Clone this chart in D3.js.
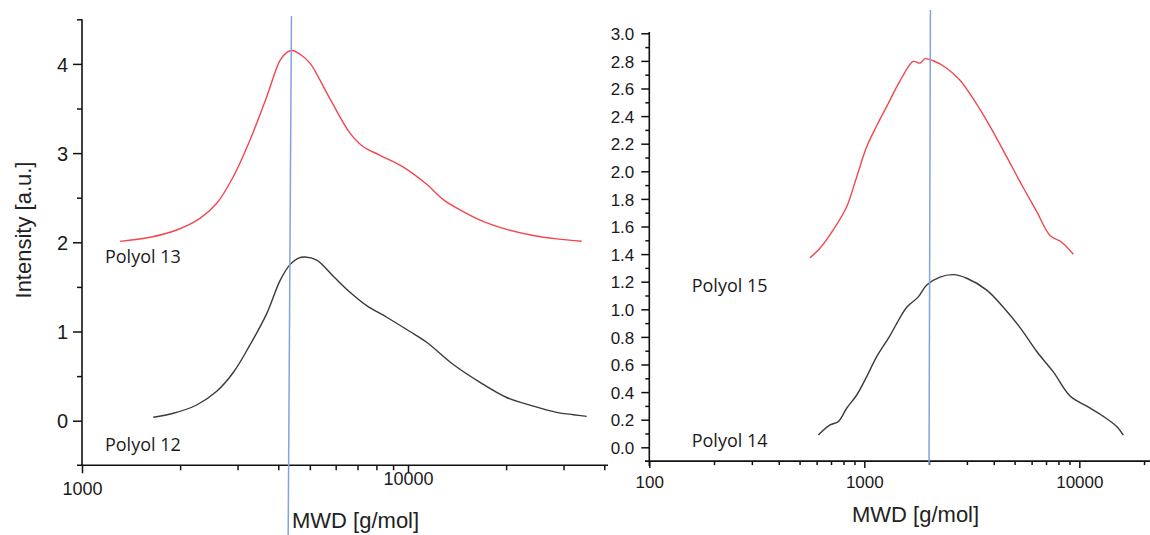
<!DOCTYPE html>
<html>
<head>
<meta charset="utf-8">
<script src="https://cdn.jsdelivr.net/npm/d3@7"></script>
<style>
  body { margin: 0; background: #fff; }
  svg { display: block; }
  .tick text { fill: #1a1a1a; }
</style>
</head>
<body>
<svg id="chart" width="1150" height="535"></svg>
<script>
// --- data (MW in g/mol, intensity in a.u.) ---
const polyol13 = [[1308,2.01],[1617,2.056],[1951,2.138],[2301,2.269],[2590,2.437],[2911,2.735],[3276,3.147],[3687,3.632],[4050,4.04],[4250,4.13],[4420,4.15],[4700,4.10],[5004,4.009],[5765,3.607],[6639,3.224],[7295,3.071],[8208,2.975],[9674,2.842],[11410,2.65],[12830,2.478],[14440,2.363],[16630,2.249],[20080,2.145],[24230,2.076],[28580,2.038],[34110,2.011]]
const polyol12 = [[1654,0.038],[1906,0.083],[2248,0.176],[2590,0.33],[2911,0.54],[3276,0.85],[3687,1.2],[4050,1.57],[4345,1.75],[4600,1.82],[4831,1.835],[5248,1.80],[5900,1.62],[6639,1.44],[7470,1.29],[8604,1.16],[10140,1.0],[11410,0.88],[13770,0.63],[16630,0.43],[20080,0.26],[24230,0.164],[28580,0.094],[32150,0.067],[35340,0.048]]
const polyol15 = [[559,1.374],[622,1.442],[717,1.575],[828,1.743],[922,1.961],[1026,2.178],[1142,2.33],[1272,2.47],[1466,2.655],[1690,2.796],[1816,2.784],[1916,2.816],[2094,2.801],[2417,2.747],[2787,2.66],[3214,2.524],[3843,2.326],[4596,2.104],[5489,1.881],[6338,1.708],[7306,1.535],[8282,1.486],[9378,1.399]]
const polyol14 = [[611,0.089],[693,0.162],[757,0.186],[828,0.283],[922,0.379],[1026,0.512],[1142,0.657],[1317,0.81],[1466,0.94],[1575,1.015],[1783,1.09],[1951,1.176],[2249,1.233],[2594,1.251],[2995,1.225],[3710,1.139],[4431,1.015],[5302,0.867],[6338,0.694],[7570,0.546],[9051,0.372],[10826,0.298],[12930,0.224],[14930,0.15],[16020,0.088]]

// blue reference lines (MW at top, MW at bottom)
const markerLeft = [4390, 4290]
const markerRight = [2030, 2000]

const xTicksLeft = [1000, 10000]
const xMinorLeft = [2000,3000,4000,5000,6000,7000,8000,9000,20000,30000,40000]
const yTicksLeft = [0, 1, 2, 3, 4]
const yMinorLeft = [0.5, 1.5, 2.5, 3.5, 4.5]
const xTicksRight = [100, 1000, 10000]
const xMinorRight = [200,300,400,500,600,700,800,900,2000,3000,4000,5000,6000,7000,8000,9000,20000]
const yTicksRight = d3.range(0, 16).map(i => i / 5)
const yMinorRight = d3.range(0, 15).map(i => (2 * i + 1) / 10)

const labelsLeft = [{text: 'Polyol 13', x: 1176, y: 1.77}, {text: 'Polyol 12', x: 1176, y: -0.34}]
const labelsRight = [{text: 'Polyol 15', x: 157.5, y: 1.125}, {text: 'Polyol 14', x: 157.5, y: 0.002}]

const red = '#f2474e'
const grey = '#3a3a3a'
const blue = '#84a3dc'
const tickFont = "'Liberation Sans', Arial, sans-serif"

const svg = d3.select('#chart')

// ---------- left panel ----------
const xL = d3.scaleLog().domain([1000, 41070]).range([82, 608])
const yL = d3.scaleLinear().domain([-0.5, 4.5]).range([465.3, 19.3])

const left = svg.append('g')

left.append('g')
    .attr('transform', 'translate(82,0)')
    .call(d3.axisLeft(yL).tickValues(yTicksLeft).tickSize(9).tickFormat(d3.format('d')))
    .call(g => g.select('.domain').remove())
    .call(g => g.selectAll('text').attr('font-size', 20).attr('font-family', tickFont).attr('x', -14).attr('dy', '0.36em'))
left.append('g')
    .attr('transform', 'translate(82,0)')
    .call(d3.axisLeft(yL).tickValues(yMinorLeft).tickSize(5).tickFormat(''))
    .call(g => g.select('.domain').remove())

left.append('g')
    .attr('transform', 'translate(0,465.3)')
    .call(d3.axisBottom(xL).tickValues(xTicksLeft).tickSize(8).tickFormat(d3.format('d')))
    .call(g => g.select('.domain').remove())
    .call(g => g.selectAll('text').attr('font-size', 18).attr('font-family', tickFont).attr('dy', 0)
        .attr('y', d => d === 1000 ? 30 : 20))
left.append('g')
    .attr('transform', 'translate(0,465.3)')
    .call(d3.axisBottom(xL).tickValues(xMinorLeft).tickSize(5).tickFormat(''))
    .call(g => g.select('.domain').remove())

left.append('line').attr('x1', 82).attr('x2', 82).attr('y1', 19.3).attr('y2', 466)
    .attr('stroke', '#111').attr('stroke-width', 1.6)
left.append('line').attr('x1', 77).attr('x2', 608).attr('y1', 465.3).attr('y2', 465.3)
    .attr('stroke', '#111').attr('stroke-width', 1.6)

// ---------- right panel ----------
const xR = d3.scaleLog().domain([100, 21090]).range([649.3, 1149])
const yR = d3.scaleLinear().domain([-0.1, 3.0]).range([461.1, 33.3])

const right = svg.append('g')

right.append('g')
    .attr('transform', 'translate(649.3,0)')
    .call(d3.axisLeft(yR).tickValues(yTicksRight).tickSize(8).tickFormat(d3.format('.1f')))
    .call(g => g.select('.domain').remove())
    .call(g => g.selectAll('text').attr('font-size', 17).attr('font-family', tickFont).attr('x', -15).attr('dy', '0.36em'))
right.append('g')
    .attr('transform', 'translate(649.3,0)')
    .call(d3.axisLeft(yR).tickValues(yMinorRight).tickSize(4).tickFormat(''))
    .call(g => g.select('.domain').remove())

right.append('g')
    .attr('transform', 'translate(0,461.1)')
    .call(d3.axisBottom(xR).tickValues(xTicksRight).tickSize(7).tickFormat(d3.format('d')))
    .call(g => g.select('.domain').remove())
    .call(g => g.selectAll('text').attr('font-size', 17).attr('font-family', tickFont).attr('dy', 0).attr('y', 27))
right.append('g')
    .attr('transform', 'translate(0,461.1)')
    .call(d3.axisBottom(xR).tickValues(xMinorRight).tickSize(4).tickFormat(''))
    .call(g => g.select('.domain').remove())

right.append('line').attr('x1', 649.3).attr('x2', 649.3).attr('y1', 32).attr('y2', 466)
    .attr('stroke', '#111').attr('stroke-width', 1.6)
right.append('line').attr('x1', 645).attr('x2', 1150).attr('y1', 461.1).attr('y2', 461.1)
    .attr('stroke', '#111').attr('stroke-width', 1.6)

svg.selectAll('.tick line').attr('stroke', '#111').attr('stroke-width', 1.5)

// ---------- curves ----------
const lineL = d3.line().x(d => xL(d[0])).y(d => yL(d[1])).curve(d3.curveCatmullRom)
const lineR = d3.line().x(d => xR(d[0])).y(d => yR(d[1])).curve(d3.curveCatmullRom)

const series = [
    {data: polyol13, line: lineL, color: red},
    {data: polyol12, line: lineL, color: grey},
    {data: polyol15, line: lineR, color: red},
    {data: polyol14, line: lineR, color: grey}
]
svg.append('g').selectAll('path')
    .data(series)
    .join('path')
    .attr('d', s => s.line(s.data))
    .attr('fill', 'none')
    .attr('stroke', s => s.color)
    .attr('stroke-width', 1.4)

// blue guide lines
svg.append('line')
    .attr('x1', xL(markerLeft[0])).attr('y1', 16)
    .attr('x2', xL(markerLeft[1])).attr('y2', 535)
    .attr('stroke', blue).attr('stroke-width', 1.5)
svg.append('line')
    .attr('x1', xR(markerRight[0])).attr('y1', 10)
    .attr('x2', xR(markerRight[1])).attr('y2', 465)
    .attr('stroke', blue).attr('stroke-width', 1.5)

// ---------- labels ----------
svg.append('g').selectAll('text')
    .data(labelsLeft)
    .join('text')
    .attr('x', d => xL(d.x)).attr('y', d => yL(d.y))
    .attr('font-family', "'Open Sans', sans-serif").attr('font-size', 18).attr('fill', '#1a1a1a')
    .text(d => d.text)
svg.append('g').selectAll('text')
    .data(labelsRight)
    .join('text')
    .attr('x', d => xR(d.x)).attr('y', d => yR(d.y))
    .attr('font-family', "'Open Sans', sans-serif").attr('font-size', 18).attr('fill', '#1a1a1a')
    .text(d => d.text)

svg.append('text')
    .attr('transform', 'translate(31,230) rotate(-90)')
    .attr('text-anchor', 'middle')
    .attr('font-family', tickFont).attr('font-size', 22).attr('fill', '#222')
    .text('Intensity [a.u.]')

svg.append('text')
    .attr('x', 292).attr('y', 528)
    .attr('font-family', tickFont).attr('font-size', 22).attr('fill', '#222')
    .text('MWD [g/mol]')
svg.append('text')
    .attr('x', 852).attr('y', 522)
    .attr('font-family', tickFont).attr('font-size', 22).attr('fill', '#222')
    .text('MWD [g/mol]')
</script>
</body>
</html>
